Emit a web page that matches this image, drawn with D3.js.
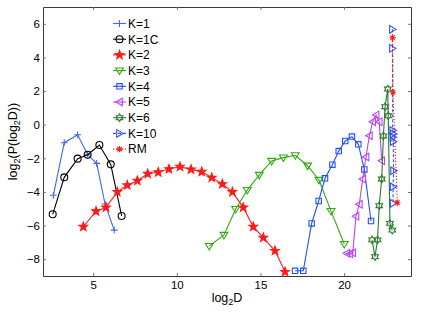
<!DOCTYPE html>
<html>
<head>
<meta charset="utf-8">
<script src="https://cdn.jsdelivr.net/npm/d3@7"></script>
<style>
  body { margin: 0; background: #fff; }
  text { font-family: "Liberation Sans", Arial, sans-serif; fill: #000; }
</style>
</head>
<body>
<div id="chart"></div>
<script>
// chart values
var k1X = [2.62, 3.27, 4.07, 4.67, 5.21, 5.71, 6.26];
var k1Y = [-4.2, -1.07, -0.6, -1.79, -2.3, -4.72, -6.27];

var k1cX = [2.58, 3.27, 4.07, 4.67, 5.37, 6.05, 6.7];
var k1cY = [-5.33, -3.13, -2.02, -1.79, -1.21, -2.36, -5.43];

var k2X = [4.41, 5.17, 5.77, 6.44, 7.04, 7.64, 8.26, 8.89, 9.53, 10.19,
           10.85, 11.49, 12.09, 12.72, 13.32, 13.97, 14.57, 15.17, 15.87, 16.47];
var k2Y = [-6.07, -5.15, -4.92, -4.0, -3.6, -3.33, -2.92, -2.83, -2.64, -2.5,
           -2.66, -2.8, -3.15, -3.53, -4.0, -4.92, -6.07, -6.72, -7.5, -8.75];

var k3X = [11.94, 12.82, 13.52, 14.21, 14.93, 15.67, 16.37, 17.08, 17.82, 18.5, 19.22, 20.01];
var k3Y = [-7.22, -6.56, -5.02, -3.89, -2.99, -2.16, -1.96, -1.82, -2.44, -3.29, -5.14, -7.1];

var k4X = [17.07, 17.56, 18.06, 18.48, 18.86, 19.3, 19.68, 20.07, 20.47, 20.85, 21.21, 21.61];
var k4Y = [-8.69, -8.69, -5.87, -4.54, -3.19, -2.38, -1.57, -0.97, -0.71, -1.17, -2.66, -5.73];

var k5X = [20.16, 20.35, 20.52, 20.71, 20.91, 21.11, 21.31, 21.51, 21.71, 21.91, 22.1, 22.25];
var k5Y = [-7.65, -7.68, -7.62, -5.45, -4.73, -3.23, -1.92, -0.66, 0.18, 0.58, 0.18, -2.14];

var k6X = [21.67, 21.85, 22.0, 22.1, 22.25, 22.35, 22.45, 22.61, 22.64, 22.74, 22.88];
var k6Y = [-6.85, -7.85, -6.85, -4.82, -3.23, -0.67, 1.07, 2.12, 0.53, -5.87, -6.27];

var k10X = [22.89, 22.89, 22.91, 22.95, 22.92, 22.94, 22.96, 22.93, 22.93];
var k10Y = [5.67, 4.54, -0.35, -0.55, -0.75, -1.0, -2.74, -3.69, -4.68];

var rmX = [22.9, 22.92, 23.18];
var rmY = [5.17, 1.93, -4.64];

var seriesNames = ["K=1", "K=1C", "K=2", "K=3", "K=4", "K=5", "K=6", "K=10", "RM"];
var xTicks = [5, 10, 15, 20];
var yTicks = [-8, -6, -4, -2, 0, 2, 4, 6];

// SVG wrapper width and height
var svgWidth = 436;
var svgHeight = 312;
var margin = { top: 7, right: 25, bottom: 36, left: 43 };
var width = svgWidth - margin.left - margin.right;
var height = svgHeight - margin.top - margin.bottom;

var svg = d3.select("#chart")
  .append("svg")
  .attr("width", svgWidth)
  .attr("height", svgHeight);

var chartGroup = svg.append("g")
  .attr("transform", `translate(${margin.left}, ${margin.top})`);

var xScale = d3.scaleLinear().domain([2, 24]).range([0, width]);
var yScale = d3.scaleLinear().domain([-9, 7]).range([height, 0]);

// marker shapes (matlab style)
function starPath(R, n, ratio) {
  var pts = [];
  for (var i = 0; i < 2 * n; i++) {
    var r = i % 2 === 0 ? R : R * ratio;
    var a = -Math.PI / 2 + i * Math.PI / n;
    pts.push([r * Math.cos(a), r * Math.sin(a)]);
  }
  return "M" + pts.map(p => p[0].toFixed(2) + "," + p[1].toFixed(2)).join("L") + "Z";
}

var markers = {
  plus: { d: "M-3.4,0H3.4M0,-3.4V3.4", fill: false },
  circle: { d: d3.symbol(d3.symbolCircle, 38)(), fill: false },
  pentagram: { d: starPath(4.6, 5, 0.42), fill: true },
  down: { d: "M-3.9,-2.6L3.9,-2.6L0,3.9Z", fill: false },
  square: { d: "M-2.7,-2.7h5.4v5.4h-5.4Z", fill: false },
  left: { d: "M-3.6,0L2.8,-3.8L2.8,3.8Z", fill: false },
  hexagram: { d: starPath(3.8, 6, 0.58), fill: false },
  right: { d: "M3.6,0L-2.8,-3.8L-2.8,3.8Z", fill: false },
  asterisk: { d: "M-3.2,0H3.2M0,-3.2V3.2M-2.3,-2.3L2.3,2.3M-2.3,2.3L2.3,-2.3", fill: false }
};

var styles = [
  { color: "#4169e1", marker: "plus", dash: null },
  { color: "#000000", marker: "circle", dash: null },
  { color: "#ff1a1a", marker: "pentagram", dash: null },
  { color: "#33a812", marker: "down", dash: null },
  { color: "#2150f0", marker: "square", dash: null },
  { color: "#b845f5", marker: "left", dash: null },
  { color: "#2e7a2e", marker: "hexagram", dash: null },
  { color: "#3050ff", marker: "right", dash: "3,2" },
  { color: "#ff1a1a", marker: "asterisk", dash: "1.2,1.8" }
];

var xs = [k1X, k1cX, k2X, k3X, k4X, k5X, k6X, k10X, rmX];
var ys = [k1Y, k1cY, k2Y, k3Y, k4Y, k5Y, k6Y, k10Y, rmY];

var series = seriesNames.map(function(name, i) {
  return {
    name: name,
    style: styles[i],
    points: xs[i].map((x, j) => ({ x: x, y: ys[i][j] }))
  };
});

// axes with inward ticks on all four sides
var frameColor = "#3a3a3a";
function styleAxis(g) {
  g.select(".domain").attr("stroke", frameColor);
  g.selectAll(".tick line").attr("stroke", "#777");
  g.selectAll(".tick text").style("font-size", "11.5px").attr("fill", "#000");
}

chartGroup.append("g")
  .attr("transform", `translate(0, ${height})`)
  .call(d3.axisBottom(xScale).tickValues(xTicks).tickSizeInner(-3).tickSizeOuter(0).tickPadding(4.5))
  .call(styleAxis);

chartGroup.append("g")
  .call(d3.axisTop(xScale).tickValues(xTicks).tickSizeInner(-3).tickSizeOuter(0).tickFormat(""))
  .call(styleAxis);

chartGroup.append("g")
  .call(d3.axisLeft(yScale).tickValues(yTicks).tickSizeInner(-3).tickSizeOuter(0).tickPadding(3))
  .call(styleAxis);

chartGroup.append("g")
  .attr("transform", `translate(${width}, 0)`)
  .call(d3.axisRight(yScale).tickValues(yTicks).tickSizeInner(-3).tickSizeOuter(0).tickFormat(""))
  .call(styleAxis);

// lines and markers
var line = d3.line().x(d => xScale(d.x)).y(d => yScale(d.y));

var plotGroup = chartGroup.append("g");
series.forEach(function(s) {
  var g = plotGroup.append("g");
  g.append("path")
    .attr("d", line(s.points))
    .attr("fill", "none")
    .attr("stroke", s.style.color)
    .attr("stroke-width", 1.1)
    .attr("stroke-dasharray", s.style.dash);

  var m = markers[s.style.marker];
  g.selectAll("path.mk")
    .data(s.points)
    .enter()
    .append("path")
    .attr("class", "mk")
    .attr("d", m.d)
    .attr("transform", d => `translate(${xScale(d.x)},${yScale(d.y)})`)
    .attr("fill", m.fill ? s.style.color : "none")
    .attr("stroke", s.style.color)
    .attr("stroke-width", 1.1);
});

// legend (no box)
var legend = svg.append("g").attr("transform", "translate(113, 23.5)");
series.forEach(function(s, i) {
  var row = legend.append("g").attr("transform", `translate(0, ${i * 15.7})`);
  row.append("line")
    .attr("x1", 0).attr("x2", 13)
    .attr("stroke", s.style.color)
    .attr("stroke-width", 1.1)
    .attr("stroke-dasharray", s.style.dash);
  var m = markers[s.style.marker];
  row.append("path")
    .attr("d", m.d)
    .attr("transform", "translate(6.5,0)")
    .attr("fill", m.fill ? s.style.color : "none")
    .attr("stroke", s.style.color)
    .attr("stroke-width", 1.1);
  row.append("text")
    .attr("x", 15)
    .attr("dy", "0.36em")
    .style("font-size", "12px")
    .text(s.name);
});

// axis labels
var yLabel = svg.append("text")
  .attr("transform", `translate(17, ${margin.top + height / 2}) rotate(-90)`)
  .attr("text-anchor", "middle")
  .style("font-size", "12.5px");
yLabel.append("tspan").text("log");
yLabel.append("tspan").attr("dy", 3).style("font-size", "9px").text("2");
yLabel.append("tspan").attr("dy", -3).text("(P(log");
yLabel.append("tspan").attr("dy", 3).style("font-size", "9px").text("2");
yLabel.append("tspan").attr("dy", -3).text("D))");

var xLabel = svg.append("text")
  .attr("x", margin.left + width / 2)
  .attr("y", 302)
  .attr("text-anchor", "middle")
  .style("font-size", "12.5px");
xLabel.append("tspan").text("log");
xLabel.append("tspan").attr("dy", 3).style("font-size", "9px").text("2");
xLabel.append("tspan").attr("dy", -3).text("D");
</script>
</body>
</html>
